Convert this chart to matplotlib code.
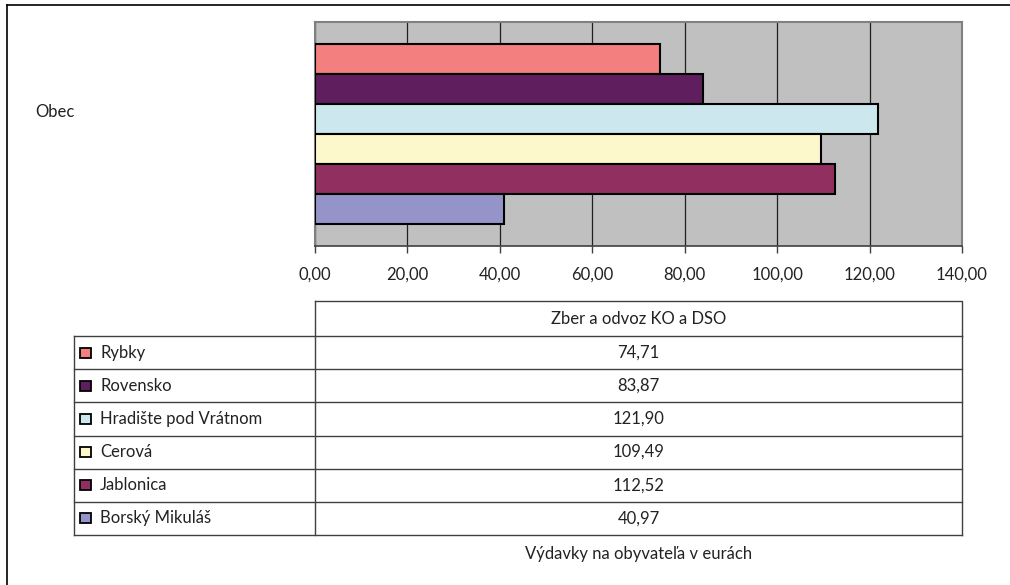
import matplotlib.pyplot as plt
from matplotlib.patches import Rectangle

plt.rcParams['font.family'] = ['Lato', 'DejaVu Sans']

# Data
municipalities = ['Rybky', 'Rovensko', 'Hradište pod Vrátnom', 'Cerová',
                  'Jablonica', 'Borský Mikuláš']
values = [74.71, 83.87, 121.90, 109.49, 112.52, 40.97]
colors = ['#F47F7F', '#5F1F5F', '#CCE8EE', '#FCF8CC', '#913060', '#9494C8']
x_ticks = [0, 20, 40, 60, 80, 100, 120, 140]
category = 'Obec'
series_name = 'Zber a odvoz KO a DSO'
axis_title = 'Výdavky na obyvateľa v eurách'

FS = 12
W, H = 1010, 585
fig = plt.figure(figsize=(W / 100, H / 100), dpi=100)

# Plot area in pixels
px_left, px_right, px_top, px_bottom = 315, 962, 22, 246
ax = fig.add_axes([px_left / W, 1 - px_bottom / H,
                   (px_right - px_left) / W, (px_bottom - px_top) / H])
ax.set_facecolor('#C0C0C0')

n = len(values)
group = 0.80
bar_h = group / n
for i, (v, c) in enumerate(zip(values, colors)):
    y = 0.5 + (n / 2 - 0.5 - i) * bar_h
    ax.barh(y, v, height=bar_h, color=c, edgecolor='black',
            linewidth=1.5, zorder=3)

ax.set_xlim(0, 140)
ax.set_ylim(0, 1)
ax.set_xticks(x_ticks)
ax.set_xticklabels([f'{t:.2f}'.replace('.', ',') for t in x_ticks],
                   fontsize=FS, color='#222222')
ax.set_yticks([])
ax.grid(axis='x', color='#202020', linewidth=0.9, zorder=1)
ax.tick_params(axis='x', direction='out', length=5, width=1,
               color='#404040', pad=10)
for side in ['left', 'top', 'right']:
    ax.spines[side].set_color('#808080')
    ax.spines[side].set_linewidth(1.5)
ax.spines['bottom'].set_color('#404040')
ax.spines['bottom'].set_linewidth(1.2)

# Overlay in pixel coordinates for labels, table and frame
ov = fig.add_axes([0, 0, 1, 1], facecolor='none')
ov.set_xlim(0, W)
ov.set_ylim(H, 0)
ov.axis('off')

# Outer frame
ov.plot([7, 7], [5, H], color='black', lw=1.2)
ov.plot([7, W], [5, 5], color='black', lw=1.2)

ov.text(35, 112, category, fontsize=FS, va='center', ha='left',
        color='#222222')

# Data table
tab_left, col_x, tab_right = 74, 315, 962
head_top, head_bottom = 301, 336
row_h = (535 - head_bottom) / n
line_c = '#404040'

ov.plot([col_x, tab_right, tab_right], [head_top, head_top, head_bottom],
        color=line_c, lw=1)
ov.plot([col_x, col_x], [head_top, head_bottom], color=line_c, lw=1)
ov.text((col_x + tab_right) / 2, (head_top + head_bottom) / 2, series_name,
        fontsize=FS, ha='center', va='center', color='#222222')

bottom = head_bottom + n * row_h
ov.plot([tab_left, tab_left], [head_bottom, bottom], color=line_c, lw=1)
ov.plot([col_x, col_x], [head_bottom, bottom], color=line_c, lw=1)
ov.plot([tab_right, tab_right], [head_bottom, bottom], color=line_c, lw=1)
for i, (name, v, c) in enumerate(zip(municipalities, values, colors)):
    y0 = head_bottom + i * row_h
    ov.plot([tab_left, tab_right], [y0, y0], color=line_c, lw=1)
    yc = y0 + row_h / 2
    ov.add_patch(Rectangle((80, yc - 5), 11, 10, facecolor=c,
                           edgecolor='black', lw=1.3))
    ov.text(100, yc, name, fontsize=FS, ha='left', va='center',
            color='#222222')
    ov.text((col_x + tab_right) / 2, yc, f'{v:.2f}'.replace('.', ','),
            fontsize=FS, ha='center', va='center', color='#222222')
ov.plot([tab_left, tab_right], [bottom, bottom], color=line_c, lw=1)

ov.text((col_x + tab_right) / 2, 554, axis_title, fontsize=FS,
        ha='center', va='center', color='#222222')

fig.savefig('out.png', dpi=100)
